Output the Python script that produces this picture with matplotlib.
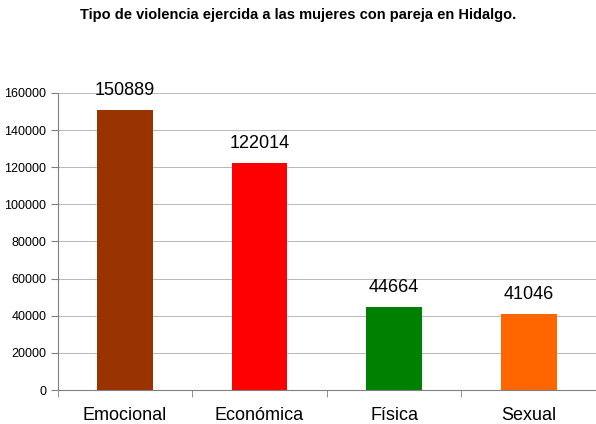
import matplotlib
matplotlib.use("Agg")
import matplotlib.pyplot as plt

categories = ["Emocional", "Económica", "Física", "Sexual"]
values = [150889, 122014, 44664, 41046]
colors = ["#993300", "#FF0000", "#008000", "#FF6600"]
yticks = [0, 20000, 40000, 60000, 80000, 100000, 120000, 140000, 160000]

plt.rcParams['font.family'] = ['Liberation Sans', 'DejaVu Sans']

fig = plt.figure(figsize=(5.96, 4.24), dpi=100)
ax = fig.add_axes([0.0965, 0.080, 0.9035, 0.701])

x = list(range(len(categories)))
ax.bar(x, values, width=0.415, color=colors, zorder=3)
for xi, v in zip(x, values):
    ax.text(xi, v + 6000, str(v), ha='center', va='bottom', fontsize=13)

ax.set_xlim(-0.5, len(categories) - 0.5)
ax.set_ylim(0, 160000)
ax.set_yticks(yticks)
ax.set_yticklabels([str(t) for t in yticks], fontsize=9)
ax.set_xticks(x)
ax.set_xticklabels(categories, fontsize=13)
ax.tick_params(axis='x', length=0, pad=12)
ax.set_xticks([i + 0.5 for i in range(-1, len(categories))], minor=True)
ax.tick_params(axis='x', which='minor', length=5, color='#808080')
ax.tick_params(axis='y', length=5, color='#808080', pad=3)
ax.yaxis.grid(True, color='#b8b8b8', linewidth=0.7, zorder=0)
for s in ['top', 'right']:
    ax.spines[s].set_visible(False)
ax.spines['left'].set_color('#808080')
ax.spines['bottom'].set_color('#808080')

fig.text(0.5, 0.965, "Tipo de violencia ejercida a las mujeres con pareja en Hidalgo.",
         ha='center', va='center', fontsize=10.5, fontweight='bold')

fig.savefig("out.png", dpi=100)
